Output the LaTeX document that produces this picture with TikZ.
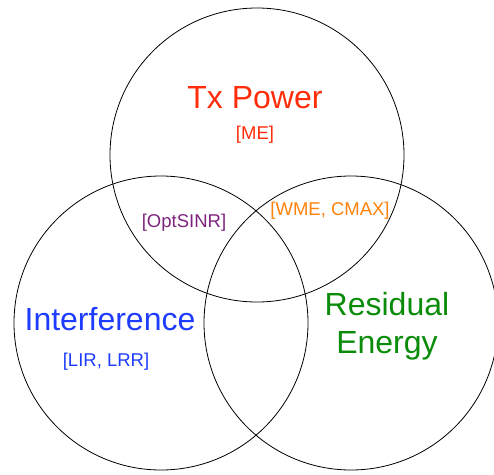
\documentclass[tikz,border=0pt]{standalone}
\usepackage{fontspec}
\setmainfont{Liberation Sans}
\usepackage{tikz}
\definecolor{Txred}{RGB}{255,45,10}
\definecolor{Intblue}{RGB}{30,60,255}
\definecolor{Resgreen}{RGB}{10,140,10}
\definecolor{Mixpurple}{RGB}{125,35,125}
\definecolor{Mixorange}{RGB}{255,130,10}
\tikzset{
  set/.style={draw=black, line width=0.8pt, circle, minimum size=294pt, inner sep=0pt},
  bigname/.style={font=\fontsize{32}{38}\selectfont, inner sep=0pt, anchor=base},
  smallname/.style={font=\fontsize{18.5}{22}\selectfont, inner sep=0pt, anchor=base}
}

\begin{document}
\begin{tikzpicture}[x=1pt, y=-1pt]
    \useasboundingbox (0,0) rectangle (494,474);
    % the three sets
    \node [set] (txpower) at (257,155) {};
    \node [set] (interf) at (161,323) {};
    \node [set] (residual) at (351,323) {};
    % names and algorithms
    \node [bigname, text=Txred] (txname) at (255,108) {Tx Power};
    \node [smallname, text=Txred] (txalg) at (255,139) {[ME]};
    \node [bigname, text=Intblue] (intname) at (110,330) {Interference};
    \node [smallname, text=Intblue] (intalg) at (106,366) {[LIR, LRR]};
    \node [bigname, text=Resgreen, align=center, anchor=center] (resname) at (387,326)
            {Residual\\Energy};
    \node [smallname, text=Mixpurple] (optalg) at (184,227) {[OptSINR]};
    \node [smallname, text=Mixorange] (wmealg) at (330,215) {[WME, CMAX]};
\end{tikzpicture}
\end{document}
